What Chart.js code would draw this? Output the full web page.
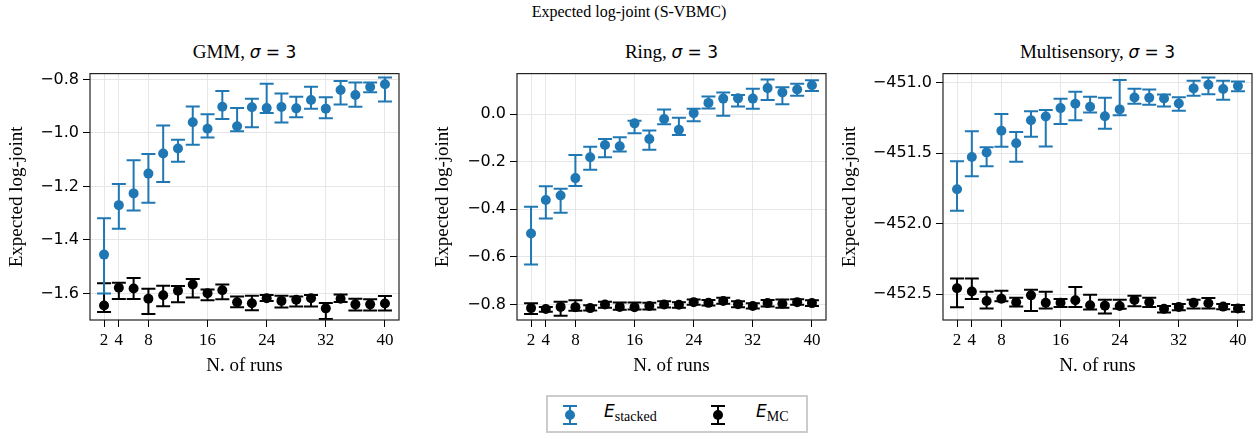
<!DOCTYPE html>
<html>
<head>
<meta charset="utf-8">
<script src="https://cdn.jsdelivr.net/npm/chart.js@4.4.0/dist/chart.umd.min.js"></script>
<style>
  body { margin: 0; background: #fff; width: 1258px; height: 438px; position: relative; overflow: hidden; }
  canvas { position: absolute; top: 60px; }
  .serif { font-family: 'Liberation Serif', 'Times New Roman', serif; }
  .math { font-family: 'DejaVu Sans', sans-serif; }
  .title { position: absolute; top: 4px; left: 0; width: 1258px; text-align: center; font-size: 16px; line-height: 16px; }
  .sub { position: absolute; top: 42px; width: 300px; text-align: center; font-size: 19px; line-height: 19px; white-space: nowrap; }
  .sub .math { font-size: 17px; }
  #legend { position: absolute; left: 546px; top: 395px; width: 258px; height: 34px; border: 2px solid #cccccc; }
  #legend svg { position: absolute; top: 7px; }
  #legend .lab { position: absolute; top: 5px; font-size: 17px; line-height: 19px; white-space: nowrap; }
  #legend .lab i { font-family: 'DejaVu Sans', sans-serif; }
  #legend .lab sub { font-family: 'Liberation Serif', serif; font-size: 14px; vertical-align: -4px; }
</style>
</head>
<body>
<div class="title serif">Expected log-joint (S-VBMC)</div>
<div class="sub serif" style="left:94.5px">GMM, <span class="math"><i>σ</i>&nbsp;=&nbsp;3</span></div>
<div class="sub serif" style="left:521.5px">Ring, <span class="math"><i>σ</i>&nbsp;=&nbsp;3</span></div>
<div class="sub serif" style="left:947.5px">Multisensory, <span class="math"><i>σ</i>&nbsp;=&nbsp;3</span></div>

<canvas id="gmm" width="410" height="320" style="left:0px"></canvas>
<canvas id="ring" width="416" height="320" style="left:420px"></canvas>
<canvas id="multi" width="428" height="320" style="left:830px"></canvas>

<div id="legend">
  <svg width="16" height="22" style="left:14px"><g stroke="#1f77b4" stroke-width="2"><line x1="8" y1="2" x2="8" y2="20"/><line x1="1" y1="2" x2="15" y2="2"/><line x1="1" y1="20" x2="15" y2="20"/></g><circle cx="8" cy="11" r="5" fill="#1f77b4"/></svg>
  <div class="lab" style="left:56px"><i>E</i><sub>stacked</sub></div>
  <svg width="16" height="22" style="left:162px"><g stroke="#000" stroke-width="2"><line x1="8" y1="2" x2="8" y2="20"/><line x1="1" y1="2" x2="15" y2="2"/><line x1="1" y1="20" x2="15" y2="20"/></g><circle cx="8" cy="11" r="5" fill="#000"/></svg>
  <div class="lab" style="left:208px"><i>E</i><sub>MC</sub></div>
</div>

<script>
const runs = [2, 4, 6, 8, 10, 12, 14, 16, 18, 20, 22, 24, 26, 28, 30, 32, 34, 36, 38, 40];
const runTicks = [2, 4, 8, 16, 24, 32, 40];

// GMM, sigma = 3
const gmmStacked   = [-1.455, -1.270, -1.226, -1.152, -1.077, -1.058, -0.960, -0.984, -0.902, -0.975, -0.904, -0.907, -0.903, -0.908, -0.877, -0.909, -0.839, -0.858, -0.828, -0.818];
const gmmStackedHi = [-1.319, -1.191, -1.102, -1.079, -0.972, -1.025, -0.901, -0.930, -0.843, -0.907, -0.872, -0.816, -0.852, -0.865, -0.827, -0.866, -0.806, -0.811, -0.811, -0.793];
const gmmStackedLo = [-1.600, -1.358, -1.290, -1.261, -1.183, -1.108, -1.044, -1.017, -0.948, -0.994, -0.979, -0.925, -0.961, -0.941, -0.909, -0.945, -0.894, -0.902, -0.848, -0.882];
const gmmMC        = [-1.645, -1.579, -1.582, -1.620, -1.607, -1.590, -1.567, -1.599, -1.588, -1.633, -1.637, -1.618, -1.628, -1.624, -1.618, -1.656, -1.620, -1.641, -1.641, -1.638];
const gmmMCHi      = [-1.562, -1.560, -1.542, -1.583, -1.571, -1.572, -1.546, -1.585, -1.567, -1.612, -1.609, -1.606, -1.609, -1.612, -1.606, -1.636, -1.604, -1.620, -1.622, -1.610];
const gmmMCLo      = [-1.670, -1.621, -1.621, -1.677, -1.648, -1.633, -1.615, -1.626, -1.622, -1.652, -1.663, -1.628, -1.653, -1.649, -1.649, -1.696, -1.632, -1.664, -1.664, -1.664];
const gmmTicks = [-1.6, -1.4, -1.2, -1.0, -0.8];

// Ring, sigma = 3
const ringStacked   = [-0.502, -0.361, -0.342, -0.269, -0.181, -0.130, -0.135, -0.039, -0.105, -0.021, -0.066, 0.004, 0.047, 0.065, 0.066, 0.065, 0.109, 0.091, 0.103, 0.121];
const ringStackedHi = [-0.389, -0.303, -0.314, -0.172, -0.137, -0.105, -0.097, -0.028, -0.069, 0.019, -0.015, 0.022, 0.074, 0.091, 0.080, 0.106, 0.145, 0.113, 0.127, 0.142];
const ringStackedLo = [-0.632, -0.439, -0.414, -0.302, -0.234, -0.181, -0.157, -0.081, -0.150, -0.043, -0.088, -0.030, 0.023, -0.007, 0.032, 0.022, 0.059, 0.041, 0.077, 0.097];
const ringMC        = [-0.815, -0.819, -0.810, -0.811, -0.815, -0.800, -0.810, -0.811, -0.806, -0.800, -0.801, -0.790, -0.793, -0.785, -0.799, -0.806, -0.794, -0.797, -0.790, -0.794];
const ringMCHi      = [-0.795, -0.810, -0.788, -0.782, -0.803, -0.788, -0.792, -0.792, -0.793, -0.786, -0.790, -0.779, -0.781, -0.772, -0.786, -0.795, -0.781, -0.779, -0.778, -0.782];
const ringMCLo      = [-0.840, -0.830, -0.847, -0.826, -0.825, -0.814, -0.822, -0.821, -0.821, -0.813, -0.814, -0.801, -0.804, -0.797, -0.811, -0.817, -0.808, -0.814, -0.801, -0.806];
const ringTicks = [-0.8, -0.6, -0.4, -0.2, 0.0];

// Multisensory, sigma = 3
const multiStacked   = [-451.756, -451.527, -451.495, -451.341, -451.429, -451.266, -451.240, -451.180, -451.149, -451.170, -451.238, -451.189, -451.105, -451.107, -451.112, -451.147, -451.040, -451.014, -451.044, -451.023];
const multiStackedHi = [-451.558, -451.345, -451.457, -451.222, -451.350, -451.203, -451.194, -451.114, -451.063, -451.100, -451.107, -450.981, -451.042, -451.047, -451.084, -451.103, -450.986, -450.963, -450.986, -450.991];
const multiStackedLo = [-451.908, -451.663, -451.593, -451.455, -451.560, -451.383, -451.453, -451.292, -451.266, -451.212, -451.327, -451.231, -451.149, -451.156, -451.168, -451.198, -451.093, -451.082, -451.121, -451.061];
const multiMC        = [-452.458, -452.482, -452.549, -452.533, -452.558, -452.509, -452.561, -452.561, -452.544, -452.579, -452.582, -452.584, -452.542, -452.558, -452.605, -452.591, -452.561, -452.565, -452.589, -452.603];
const multiMCHi      = [-452.390, -452.390, -452.484, -452.477, -452.526, -452.470, -452.484, -452.535, -452.449, -452.505, -452.540, -452.540, -452.512, -452.526, -452.584, -452.570, -452.540, -452.528, -452.570, -452.577];
const multiMCLo      = [-452.594, -452.535, -452.603, -452.551, -452.589, -452.621, -452.603, -452.591, -452.591, -452.610, -452.638, -452.605, -452.587, -452.591, -452.631, -452.614, -452.603, -452.603, -452.607, -452.626];
const multiTicks = [-452.5, -452.0, -451.5, -451.0];

const BLUE = '#1f77b4';
const BLACK = '#000000';

function points(mean, lo, hi) {
  return runs.map((r, i) => ({ x: r, y: mean[i], yMin: lo[i], yMax: hi[i] }));
}

// error bars drawn under each dataset's markers
const errorBars = {
  id: 'errorBars',
  beforeDatasetDraw(chart, args) {
    const { ctx, chartArea, scales: { x, y } } = chart;
    const ds = chart.data.datasets[args.index];
    ctx.save();
    ctx.beginPath();
    ctx.rect(chartArea.left, chartArea.top, chartArea.right - chartArea.left, chartArea.bottom - chartArea.top);
    ctx.clip();
    ctx.strokeStyle = ds.backgroundColor;
    ctx.lineWidth = 2;
    ds.data.forEach(p => {
      const px = x.getPixelForValue(p.x);
      const top = y.getPixelForValue(p.yMax);
      const bot = y.getPixelForValue(p.yMin);
      ctx.beginPath();
      ctx.moveTo(px, top); ctx.lineTo(px, bot);
      ctx.moveTo(px - 7, top); ctx.lineTo(px + 7, top);
      ctx.moveTo(px - 7, bot); ctx.lineTo(px + 7, bot);
      ctx.stroke();
    });
    ctx.restore();
  }
};

const frame = {
  id: 'frame',
  afterDatasetsDraw(chart) {
    const { ctx, chartArea: a } = chart;
    ctx.save();
    ctx.strokeStyle = '#222';
    ctx.lineWidth = 1.2;
    ctx.strokeRect(a.left, a.top, a.right - a.left, a.bottom - a.top);
    ctx.restore();
  }
};

function makePanel(id, cfg) {
  const fmt = v => v.toFixed(1).replace('-', '\u2212');
  new Chart(document.getElementById(id), {
    type: 'scatter',
    data: {
      datasets: [
        { label: 'stacked', data: points(cfg.stacked, cfg.stackedLo, cfg.stackedHi), backgroundColor: BLUE, borderWidth: 0, pointRadius: 5 },
        { label: 'MC', data: points(cfg.mc, cfg.mcLo, cfg.mcHi), backgroundColor: BLACK, borderWidth: 0, pointRadius: 5 }
      ]
    },
    options: {
      responsive: false,
      animation: false,
      devicePixelRatio: 1,
      layout: { padding: { left: cfg.padLeft, right: cfg.padRight, top: 10, bottom: 0 } },
      plugins: { legend: { display: false }, tooltip: { enabled: false } },
      scales: {
        x: {
          type: 'linear', min: 0.1, max: 41.9,
          afterBuildTicks: s => { s.ticks = runTicks.map(v => ({ value: v })); },
          afterFit: s => { s.height = 60; },
          grid: { color: '#e6e6e6', tickColor: '#000', tickLength: 7 },
          border: { display: false },
          ticks: { color: '#000', padding: 3, maxRotation: 0, font: { family: 'Liberation Serif', size: 17 } },
          title: { display: true, text: 'N. of runs', color: '#000', padding: { top: 0, bottom: 3 }, font: { family: 'Liberation Serif', size: 19 } }
        },
        y: {
          min: cfg.yMin, max: cfg.yMax,
          afterBuildTicks: s => { s.ticks = cfg.yTicks.map(v => ({ value: v })); },
          afterFit: s => { s.width = cfg.axisWidth; },
          grid: { color: '#e6e6e6', tickColor: '#000', tickLength: 7 },
          border: { display: false },
          ticks: { color: '#000', padding: 4, callback: fmt, font: { family: 'DejaVu Sans', size: 16 } },
          title: { display: true, text: 'Expected log-joint', color: '#000', padding: 0, font: { family: 'Liberation Serif', size: 19 } }
        }
      }
    },
    plugins: [errorBars, frame]
  });
}

makePanel('gmm', {
  stacked: gmmStacked, stackedLo: gmmStackedLo, stackedHi: gmmStackedHi,
  mc: gmmMC, mcLo: gmmMCLo, mcHi: gmmMCHi,
  yMin: -1.6995, yMax: -0.778, yTicks: gmmTicks,
  padLeft: 6, axisWidth: 84, padRight: 11
});
makePanel('ring', {
  stacked: ringStacked, stackedLo: ringStackedLo, stackedHi: ringStackedHi,
  mc: ringMC, mcLo: ringMCLo, mcHi: ringMCHi,
  yMin: -0.865, yMax: 0.170, yTicks: ringTicks,
  padLeft: 12, axisWidth: 85, padRight: 10
});
makePanel('multi', {
  stacked: multiStacked, stackedLo: multiStackedLo, stackedHi: multiStackedHi,
  mc: multiMC, mcLo: multiMCLo, mcHi: multiMCHi,
  yMin: -452.684, yMax: -450.935, yTicks: multiTicks,
  padLeft: 9, axisWidth: 104, padRight: 6
});
</script>
</body>
</html>
